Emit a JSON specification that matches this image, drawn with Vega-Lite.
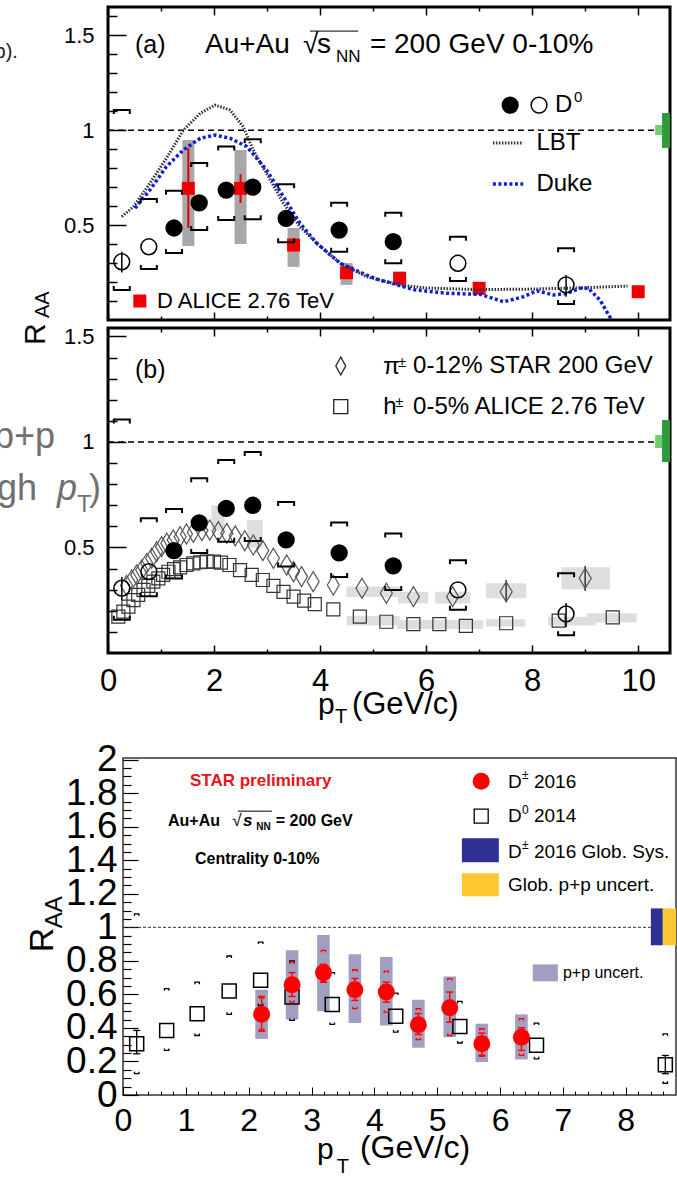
{
"$schema":"https://vega.github.io/schema/vega-lite/v6.json",
"autosize":{"type":"none"},
"padding":{"left":108,"top":7,"right":569,"bottom":1171},
"background":"white",
"spacing":8,
"bounds":"flush",
"resolve":{"scale":{"color":"independent"}},
"config":{
 "view":{"stroke":null},
 "font":"Liberation Sans",
 "axis":{"grid":false,"domain":false,"labelFont":"Liberation Sans","labelColor":"#000","tickColor":"#000","labelOverlap":false,"labelFlush":false,"labelBound":false},
 "text":{"font":"Liberation Sans","color":"#000"}
},
"datasets":{
 "d0":[
  {"pt":0.26,"r":0.307,"sl":0.158,"sh":1.107,"open":true},
  {"pt":0.77,"r":0.386,"sl":0.269,"sh":0.638,"open":true},
  {"pt":1.245,"r":0.485,"sl":0.353,"sh":0.682,"open":false},
  {"pt":1.72,"r":0.617,"sl":0.474,"sh":0.828,"open":false},
  {"pt":2.23,"r":0.685,"sl":0.527,"sh":0.914,"open":false},
  {"pt":2.73,"r":0.7,"sl":0.531,"sh":0.953,"open":false},
  {"pt":3.36,"r":0.536,"sl":0.41,"sh":0.715,"open":false},
  {"pt":4.36,"r":0.474,"sl":0.36,"sh":0.618,"open":false},
  {"pt":5.38,"r":0.413,"sl":0.299,"sh":0.566,"open":false},
  {"pt":6.6,"r":0.299,"sl":0.205,"sh":0.439,"open":true},
  {"pt":8.64,"r":0.185,"sl":0.084,"sh":0.378,"open":true}
 ],
 "d0err":[{"pt":0.26,"lo":0.25,"hi":0.36},{"pt":8.64,"lo":0.123,"hi":0.237}],
 "alice":[{"pt":1.515,"r":0.694},{"pt":2.5,"r":0.694},{"pt":3.5,"r":0.395},{"pt":4.5,"r":0.249},{"pt":5.5,"r":0.22},{"pt":7.0,"r":0.167},{"pt":10.0,"r":0.149}],
 "aliceSys":[{"pt":1.515,"lo":0.39,"hi":0.949},{"pt":2.5,"lo":0.4,"hi":0.896},{"pt":3.5,"lo":0.28,"hi":0.485},{"pt":4.5,"lo":0.185,"hi":0.3},{"pt":5.5,"lo":0.195,"hi":0.255}],
 "aliceErr":[{"pt":1.515,"lo":0.485,"hi":0.906},{"pt":2.5,"lo":0.617,"hi":0.77}],
 "lbt":[{"x":0.26,"y":0.545},{"x":0.48,"y":0.597},{"x":0.79,"y":0.72},{"x":1.1,"y":0.852},{"x":1.42,"y":1.0},{"x":1.74,"y":1.09},{"x":2.02,"y":1.133},{"x":2.3,"y":1.107},{"x":2.55,"y":1.019},{"x":2.74,"y":0.896},{"x":2.99,"y":0.773},{"x":3.31,"y":0.615},{"x":3.62,"y":0.492},{"x":3.94,"y":0.404},{"x":4.38,"y":0.299},{"x":4.88,"y":0.228},{"x":5.51,"y":0.184},{"x":6.0,"y":0.169},{"x":7.0,"y":0.16},{"x":8.0,"y":0.163},{"x":9.0,"y":0.17},{"x":9.8,"y":0.179}],
 "duke":[{"x":0.51,"y":0.589},{"x":0.79,"y":0.685},{"x":1.1,"y":0.808},{"x":1.42,"y":0.896},{"x":1.74,"y":0.958},{"x":2.02,"y":0.975},{"x":2.3,"y":0.958},{"x":2.62,"y":0.914},{"x":2.99,"y":0.791},{"x":3.31,"y":0.65},{"x":3.62,"y":0.51},{"x":3.94,"y":0.404},{"x":4.38,"y":0.299},{"x":4.88,"y":0.237},{"x":5.13,"y":0.21},{"x":5.32,"y":0.197},{"x":5.76,"y":0.16},{"x":6.39,"y":0.141},{"x":7.02,"y":0.135},{"x":7.25,"y":0.115},{"x":7.46,"y":0.096},{"x":7.84,"y":0.123},{"x":8.09,"y":0.154},{"x":8.4,"y":0.132},{"x":8.65,"y":0.14},{"x":8.9,"y":0.167},{"x":9.06,"y":0.167},{"x":9.28,"y":0.105},{"x":9.5,"y":0.0}],
 "pion":[{"x":0.35,"y":0.32},{"x":0.447,"y":0.346},{"x":0.54,"y":0.37},{"x":0.635,"y":0.393},{"x":0.73,"y":0.425},{"x":0.824,"y":0.449},{"x":0.918,"y":0.48},{"x":1.01,"y":0.504},{"x":1.11,"y":0.52},{"x":1.23,"y":0.536},{"x":1.36,"y":0.551},{"x":1.48,"y":0.564},{"x":1.61,"y":0.572},{"x":1.77,"y":0.58},{"x":1.92,"y":0.583},{"x":2.08,"y":0.575},{"x":2.24,"y":0.567},{"x":2.4,"y":0.555},{"x":2.58,"y":0.532},{"x":2.74,"y":0.512},{"x":2.92,"y":0.485},{"x":3.12,"y":0.449},{"x":3.37,"y":0.417},{"x":3.5,"y":0.385},{"x":3.65,"y":0.362},{"x":3.87,"y":0.338},{"x":4.25,"y":0.322},{"x":4.79,"y":0.307},{"x":5.25,"y":0.283},{"x":5.76,"y":0.267},{"x":6.5,"y":0.267},{"x":7.51,"y":0.29},{"x":9.0,"y":0.354}],
 "pionErr":[{"pt":9.0,"lo":0.294,"hi":0.412},{"pt":7.51,"lo":0.243,"hi":0.346}],
 "hadron":[{"x":0.195,"y":0.172},{"x":0.29,"y":0.196},{"x":0.385,"y":0.22},{"x":0.48,"y":0.251},{"x":0.57,"y":0.275},{"x":0.67,"y":0.299},{"x":0.76,"y":0.318},{"x":0.855,"y":0.338},{"x":0.95,"y":0.354},{"x":1.04,"y":0.37},{"x":1.14,"y":0.385},{"x":1.245,"y":0.397},{"x":1.36,"y":0.406},{"x":1.48,"y":0.417},{"x":1.61,"y":0.425},{"x":1.74,"y":0.43},{"x":1.86,"y":0.433},{"x":2.0,"y":0.433},{"x":2.13,"y":0.428},{"x":2.29,"y":0.417},{"x":2.49,"y":0.393},{"x":2.71,"y":0.37},{"x":2.92,"y":0.346},{"x":3.12,"y":0.318},{"x":3.31,"y":0.29},{"x":3.5,"y":0.267},{"x":3.7,"y":0.248},{"x":3.9,"y":0.232},{"x":4.25,"y":0.207},{"x":4.75,"y":0.172},{"x":5.25,"y":0.148},{"x":5.76,"y":0.137},{"x":6.25,"y":0.137},{"x":6.75,"y":0.129},{"x":7.51,"y":0.141},{"x":8.5,"y":0.153},{"x":9.52,"y":0.169}],
 "bSys":[{"x1":1.95,"x2":2.2,"lo":0.58,"hi":0.7},{"x1":2.62,"x2":2.92,"lo":0.5,"hi":0.63},{"x1":4.5,"x2":5.5,"lo":0.265,"hi":0.315},{"x1":5.47,"x2":6.04,"lo":0.235,"hi":0.29},{"x1":6.17,"x2":6.83,"lo":0.235,"hi":0.29},{"x1":7.13,"x2":7.89,"lo":0.259,"hi":0.33},{"x1":8.55,"x2":9.47,"lo":0.302,"hi":0.406},{"x1":4.5,"x2":5.5,"lo":0.13,"hi":0.175},{"x1":5.45,"x2":7.08,"lo":0.114,"hi":0.156},{"x1":7.13,"x2":7.87,"lo":0.125,"hi":0.16},{"x1":8.3,"x2":9.2,"lo":0.13,"hi":0.172},{"x1":9.03,"x2":9.97,"lo":0.144,"hi":0.188}],
 "globA":[{"x1":10.45,"x2":10.6,"lo":0.907,"hi":1.091,"k":"dark"},{"x1":10.32,"x2":10.45,"lo":0.975,"hi":1.028,"k":"light"}],
 "globB":[{"x1":10.45,"x2":10.6,"lo":0.905,"hi":1.104,"k":"dark"},{"x1":10.32,"x2":10.45,"lo":0.971,"hi":1.033,"k":"light"}],
 "unityTop":[{"x1":0,"x2":10.32,"y":1}],
 "dpm":[
  {"pt":2.206,"r":0.481,"el":0.381,"eh":0.588,"sl":0.385,"sh":0.584,"pl":0.335,"ph":0.628},
  {"pt":2.69,"r":0.658,"el":0.588,"eh":0.73,"sl":0.554,"sh":0.793,"pl":0.451,"ph":0.863},
  {"pt":3.19,"r":0.73,"el":0.673,"eh":0.779,"sl":0.673,"sh":0.863,"pl":0.5,"ph":0.955},
  {"pt":3.69,"r":0.628,"el":0.564,"eh":0.695,"sl":0.515,"sh":0.747,"pl":0.429,"ph":0.839},
  {"pt":4.19,"r":0.614,"el":0.554,"eh":0.673,"sl":0.494,"sh":0.739,"pl":0.415,"ph":0.823},
  {"pt":4.7,"r":0.419,"el":0.361,"eh":0.486,"sl":0.33,"sh":0.515,"pl":0.282,"ph":0.568},
  {"pt":5.2,"r":0.52,"el":0.435,"eh":0.614,"sl":0.355,"sh":0.694,"pl":0.345,"ph":0.707},
  {"pt":5.71,"r":0.306,"el":0.236,"eh":0.369,"sl":0.23,"sh":0.395,"pl":0.196,"ph":0.425},
  {"pt":6.34,"r":0.345,"el":0.266,"eh":0.401,"sl":0.236,"sh":0.455,"pl":0.212,"ph":0.481}
 ],
 "d0b":[
  {"pt":0.218,"r":0.306,"sl":0.127,"sh":1.08},
  {"pt":0.695,"r":0.385,"sl":0.266,"sh":0.634},
  {"pt":1.18,"r":0.485,"sl":0.355,"sh":0.673},
  {"pt":1.69,"r":0.62,"sl":0.481,"sh":0.829},
  {"pt":2.19,"r":0.684,"sl":0.534,"sh":0.912},
  {"pt":2.69,"r":0.584,"sl":0.445,"sh":0.8},
  {"pt":3.33,"r":0.54,"sl":0.421,"sh":0.73},
  {"pt":4.34,"r":0.469,"sl":0.375,"sh":0.608},
  {"pt":5.36,"r":0.409,"sl":0.31,"sh":0.558},
  {"pt":6.58,"r":0.296,"sl":0.216,"sh":0.429},
  {"pt":8.63,"r":0.18,"sl":0.07,"sh":0.365}
 ],
 "d0bErr":[{"pt":0.218,"lo":0.246,"hi":0.385},{"pt":8.63,"lo":0.127,"hi":0.236}]
},
"vconcat":[
{
 "width":562,"height":313,
 "view":{"stroke":"black","strokeWidth":3},
 "resolve":{"axis":{"x":"independent","y":"independent"}},
 "layer":[
  {"data":{"values":[{}]},"mark":{"type":"point","opacity":0},"encoding":{
   "x":{"datum":0,"type":"quantitative","scale":{"domain":[0,10.6],"nice":false,"zero":false},"axis":{"orient":"bottom","values":[0,2,4,6,8,10],"tickSize":-8,"tickWidth":1.5,"labels":false,"title":null}},
   "y":{"datum":0,"type":"quantitative","scale":{"domain":[0,1.65],"nice":false,"zero":false},"axis":{"orient":"left","values":[0.5,1,1.5],"tickSize":-18,"tickWidth":1.5,"labelPadding":32,"labelFontSize":22,"labelExpr":"''+datum.value","title":null}}}},
  {"data":{"values":[{}]},"mark":{"type":"point","opacity":0},"encoding":{
   "x":{"datum":0,"type":"quantitative","scale":{"domain":[0,10.6],"nice":false,"zero":false},"axis":{"orient":"bottom","values":[1,3,5,7,9],"tickSize":-4,"tickWidth":1.5,"labels":false,"title":null}},
   "y":{"datum":0,"type":"quantitative","scale":{"domain":[0,1.65],"nice":false,"zero":false},"axis":{"orient":"left","values":[0.1,0.2,0.3,0.4,0.6,0.7,0.8,0.9,1.1,1.2,1.3,1.4,1.6],"tickSize":-9,"tickWidth":1.5,"labels":false,"title":null}}}},
  {"data":{"values":[{}]},"mark":{"type":"point","opacity":0},"encoding":{
   "x":{"datum":0,"type":"quantitative","scale":{"domain":[0,10.6],"nice":false,"zero":false},"axis":{"orient":"top","values":[0,2,4,6,8,10],"tickSize":-8,"tickWidth":1.5,"labels":false,"title":null}},
   "y":{"datum":0,"type":"quantitative","scale":{"domain":[0,1.65],"nice":false,"zero":false},"axis":null}}},
  {"data":{"values":[{}]},"mark":{"type":"point","opacity":0},"encoding":{
   "x":{"datum":0,"type":"quantitative","scale":{"domain":[0,10.6],"nice":false,"zero":false},"axis":{"orient":"top","values":[1,3,5,7,9],"tickSize":-4,"tickWidth":1.5,"labels":false,"title":null}},
   "y":{"datum":0,"type":"quantitative","scale":{"domain":[0,1.65],"nice":false,"zero":false},"axis":null}}},
  {"data":{"name":"aliceSys"},"mark":{"type":"rect","color":"#a8a8a8","xOffset":-6,"x2Offset":6},"encoding":{
   "x":{"field":"pt","type":"quantitative","scale":{"domain":[0,10.6],"nice":false,"zero":false},"axis":null},"x2":{"field":"pt"},
   "y":{"field":"lo","type":"quantitative","scale":{"domain":[0,1.65],"nice":false,"zero":false},"axis":null},"y2":{"field":"hi"}}},
  {"data":{"name":"unityTop"},"mark":{"type":"rule","color":"black","strokeWidth":1.5,"strokeDash":[6,4]},"encoding":{
   "x":{"field":"x1","type":"quantitative","scale":{"domain":[0,10.6],"nice":false,"zero":false},"axis":null},"x2":{"field":"x2"},
   "y":{"field":"y","type":"quantitative","scale":{"domain":[0,1.65],"nice":false,"zero":false},"axis":null}}},
  {"data":{"name":"globA"},"mark":{"type":"rect"},"encoding":{
   "x":{"field":"x1","type":"quantitative","scale":{"domain":[0,10.6],"nice":false,"zero":false},"axis":null},"x2":{"field":"x2"},
   "y":{"field":"lo","type":"quantitative","scale":{"domain":[0,1.65],"nice":false,"zero":false},"axis":null},"y2":{"field":"hi"},
   "color":{"field":"k","type":"nominal","scale":{"domain":["dark","light"],"range":["#2f9a3c","#6fd06f"]},"legend":null}}},
  {"data":{"name":"aliceErr"},"mark":{"type":"rule","color":"#e00000","strokeWidth":2},"encoding":{
   "x":{"field":"pt","type":"quantitative","scale":{"domain":[0,10.6],"nice":false,"zero":false},"axis":null},
   "y":{"field":"lo","type":"quantitative","scale":{"domain":[0,1.65],"nice":false,"zero":false},"axis":null},"y2":{"field":"hi"}}},
  {"data":{"name":"alice"},"mark":{"type":"point","shape":"square","filled":true,"color":"#f00000","size":169,"opacity":1},"encoding":{
   "x":{"field":"pt","type":"quantitative","scale":{"domain":[0,10.6],"nice":false,"zero":false},"axis":null},
   "y":{"field":"r","type":"quantitative","scale":{"domain":[0,1.65],"nice":false,"zero":false},"axis":null}}},
  {"data":{"name":"lbt"},"mark":{"type":"line","color":"#333333","strokeWidth":3,"strokeDash":[1.5,1.5],"clip":true},"encoding":{
   "x":{"field":"x","type":"quantitative","scale":{"domain":[0,10.6],"nice":false,"zero":false},"axis":null},
   "y":{"field":"y","type":"quantitative","scale":{"domain":[0,1.65],"nice":false,"zero":false},"axis":null}}},
  {"data":{"name":"duke"},"mark":{"type":"line","color":"#1020d0","strokeWidth":3.5,"strokeDash":[3,2.5],"clip":true},"encoding":{
   "x":{"field":"x","type":"quantitative","scale":{"domain":[0,10.6],"nice":false,"zero":false},"axis":null},
   "y":{"field":"y","type":"quantitative","scale":{"domain":[0,1.65],"nice":false,"zero":false},"axis":null}}},
  {"data":{"name":"d0"},"mark":{"type":"point","shape":"M-1,0.5L-1,0L1,0L1,0.5","filled":false,"stroke":"black","strokeWidth":2,"size":256,"opacity":1},"encoding":{
   "x":{"field":"pt","type":"quantitative","scale":{"domain":[0,10.6],"nice":false,"zero":false},"axis":null},
   "y":{"field":"sh","type":"quantitative","scale":{"domain":[0,1.65],"nice":false,"zero":false},"axis":null}}},
  {"data":{"name":"d0"},"mark":{"type":"point","shape":"M-1,-0.5L-1,0L1,0L1,-0.5","filled":false,"stroke":"black","strokeWidth":2,"size":256,"opacity":1},"encoding":{
   "x":{"field":"pt","type":"quantitative","scale":{"domain":[0,10.6],"nice":false,"zero":false},"axis":null},
   "y":{"field":"sl","type":"quantitative","scale":{"domain":[0,1.65],"nice":false,"zero":false},"axis":null}}},
  {"data":{"name":"d0err"},"mark":{"type":"rule","color":"black","strokeWidth":1.5},"encoding":{
   "x":{"field":"pt","type":"quantitative","scale":{"domain":[0,10.6],"nice":false,"zero":false},"axis":null},
   "y":{"field":"lo","type":"quantitative","scale":{"domain":[0,1.65],"nice":false,"zero":false},"axis":null},"y2":{"field":"hi"}}},
  {"data":{"name":"d0"},"mark":{"type":"point","shape":"circle","fill":"black","stroke":"black","strokeWidth":1.5,"size":250,"opacity":1},"encoding":{
   "x":{"field":"pt","type":"quantitative","scale":{"domain":[0,10.6],"nice":false,"zero":false},"axis":null},
   "y":{"field":"r","type":"quantitative","scale":{"domain":[0,1.65],"nice":false,"zero":false},"axis":null},
   "fillOpacity":{"condition":{"test":"datum.open","value":0},"value":1}}},
  {"data":{"values":[{"x1":7.26,"x2":7.83,"y":0.933}]},"mark":{"type":"rule","color":"#333333","strokeWidth":3,"strokeDash":[1.5,1.5]},"encoding":{
   "x":{"field":"x1","type":"quantitative","scale":{"domain":[0,10.6],"nice":false,"zero":false},"axis":null},"x2":{"field":"x2"},
   "y":{"field":"y","type":"quantitative","scale":{"domain":[0,1.65],"nice":false,"zero":false},"axis":null}}},
  {"data":{"values":[{"x1":7.26,"x2":7.83,"y":0.717}]},"mark":{"type":"rule","color":"#1020d0","strokeWidth":3.5,"strokeDash":[3,2.5]},"encoding":{
   "x":{"field":"x1","type":"quantitative","scale":{"domain":[0,10.6],"nice":false,"zero":false},"axis":null},"x2":{"field":"x2"},
   "y":{"field":"y","type":"quantitative","scale":{"domain":[0,1.65],"nice":false,"zero":false},"axis":null}}},
  {"data":{"values":[{"x":7.585,"y":1.133,"open":false},{"x":8.13,"y":1.133,"open":true}]},"mark":{"type":"point","shape":"circle","fill":"black","stroke":"black","strokeWidth":1.5,"size":250,"opacity":1},"encoding":{
   "x":{"field":"x","type":"quantitative","scale":{"domain":[0,10.6],"nice":false,"zero":false},"axis":null},
   "y":{"field":"y","type":"quantitative","scale":{"domain":[0,1.65],"nice":false,"zero":false},"axis":null},
   "fillOpacity":{"condition":{"test":"datum.open","value":0},"value":1}}},
  {"data":{"values":[{"x":0.6,"y":0.1}]},"mark":{"type":"point","shape":"square","filled":true,"color":"#f00000","size":169,"opacity":1},"encoding":{
   "x":{"field":"x","type":"quantitative","scale":{"domain":[0,10.6],"nice":false,"zero":false},"axis":null},
   "y":{"field":"y","type":"quantitative","scale":{"domain":[0,1.65],"nice":false,"zero":false},"axis":null}}},
  {"data":{"values":[{"x1":3.81,"x2":4.72,"y":1.523}]},"mark":{"type":"rule","color":"black","strokeWidth":1},"encoding":{
   "x":{"field":"x1","type":"quantitative","scale":{"domain":[0,10.6],"nice":false,"zero":false},"axis":null},"x2":{"field":"x2"},
   "y":{"field":"y","type":"quantitative","scale":{"domain":[0,1.65],"nice":false,"zero":false},"axis":null}}},
  {"data":{"values":[{"x":0.51,"y":1.45,"t":"(a)"}]},"mark":{"type":"text","align":"left","baseline":"middle","fontSize":25},"encoding":{
   "x":{"field":"x","type":"quantitative","scale":{"domain":[0,10.6],"nice":false,"zero":false},"axis":null},
   "y":{"field":"y","type":"quantitative","scale":{"domain":[0,1.65],"nice":false,"zero":false},"axis":null},"text":{"field":"t"}}},
  {"data":{"values":[{"x":1.83,"y":1.45,"t":"Au+Au"},{"x":3.68,"y":1.45,"t":"√"},{"x":3.94,"y":1.45,"t":"s"},{"x":4.94,"y":1.45,"t":"= 200 GeV 0-10%"}]},"mark":{"type":"text","align":"left","baseline":"middle","fontSize":28},"encoding":{
   "x":{"field":"x","type":"quantitative","scale":{"domain":[0,10.6],"nice":false,"zero":false},"axis":null},
   "y":{"field":"y","type":"quantitative","scale":{"domain":[0,1.65],"nice":false,"zero":false},"axis":null},"text":{"field":"t"}}},
  {"data":{"values":[{"x":4.3,"y":1.386,"t":"NN"}]},"mark":{"type":"text","align":"left","baseline":"middle","fontSize":17},"encoding":{
   "x":{"field":"x","type":"quantitative","scale":{"domain":[0,10.6],"nice":false,"zero":false},"axis":null},
   "y":{"field":"y","type":"quantitative","scale":{"domain":[0,1.65],"nice":false,"zero":false},"axis":null},"text":{"field":"t"}}},
  {"data":{"values":[{"x":8.43,"y":1.133,"t":"D"},{"x":8.08,"y":0.933,"t":"LBT"},{"x":8.08,"y":0.717,"t":"Duke"}]},"mark":{"type":"text","align":"left","baseline":"middle","fontSize":24},"encoding":{
   "x":{"field":"x","type":"quantitative","scale":{"domain":[0,10.6],"nice":false,"zero":false},"axis":null},
   "y":{"field":"y","type":"quantitative","scale":{"domain":[0,1.65],"nice":false,"zero":false},"axis":null},"text":{"field":"t"}}},
  {"data":{"values":[{"x":8.79,"y":1.173,"t":"0"}]},"mark":{"type":"text","align":"left","baseline":"middle","fontSize":15},"encoding":{
   "x":{"field":"x","type":"quantitative","scale":{"domain":[0,10.6],"nice":false,"zero":false},"axis":null},
   "y":{"field":"y","type":"quantitative","scale":{"domain":[0,1.65],"nice":false,"zero":false},"axis":null},"text":{"field":"t"}}},
  {"data":{"values":[{"x":0.925,"y":0.1,"t":"D ALICE 2.76 TeV"}]},"mark":{"type":"text","align":"left","baseline":"middle","fontSize":22},"encoding":{
   "x":{"field":"x","type":"quantitative","scale":{"domain":[0,10.6],"nice":false,"zero":false},"axis":null},
   "y":{"field":"y","type":"quantitative","scale":{"domain":[0,1.65],"nice":false,"zero":false},"axis":null},"text":{"field":"t"}}},
  {"data":{"values":[{"x":-1.7,"y":1.381,"t":"b)."}]},"mark":{"type":"text","align":"right","baseline":"alphabetic","fontSize":20,"color":"#222"},"encoding":{
   "x":{"field":"x","type":"quantitative","scale":{"domain":[0,10.6],"nice":false,"zero":false},"axis":null},
   "y":{"field":"y","type":"quantitative","scale":{"domain":[0,1.65],"nice":false,"zero":false},"axis":null},"text":{"field":"t"}}}
 ]
},
{
 "width":562,"height":325,
 "view":{"stroke":"black","strokeWidth":3},
 "resolve":{"axis":{"x":"independent","y":"independent"}},
 "layer":[
  {"data":{"values":[{}]},"mark":{"type":"point","opacity":0},"encoding":{
   "x":{"datum":0,"type":"quantitative","scale":{"domain":[0,10.6],"nice":false,"zero":false},"axis":{"orient":"bottom","values":[0,2,4,6,8,10],"tickSize":-8,"tickWidth":1.5,"labelPadding":21,"labelFontSize":31,"labelExpr":"''+datum.value","title":null}},
   "y":{"datum":0,"type":"quantitative","scale":{"domain":[0,1.54],"nice":false,"zero":false},"axis":{"orient":"left","values":[0.5,1,1.5],"tickSize":-18,"tickWidth":1.5,"labelPadding":32,"labelFontSize":22,"labelExpr":"''+datum.value","title":null}}}},
  {"data":{"values":[{}]},"mark":{"type":"point","opacity":0},"encoding":{
   "x":{"datum":0,"type":"quantitative","scale":{"domain":[0,10.6],"nice":false,"zero":false},"axis":{"orient":"bottom","values":[1,3,5,7,9],"tickSize":-4,"tickWidth":1.5,"labels":false,"title":null}},
   "y":{"datum":0,"type":"quantitative","scale":{"domain":[0,1.54],"nice":false,"zero":false},"axis":{"orient":"left","values":[0.1,0.2,0.3,0.4,0.6,0.7,0.8,0.9,1.1,1.2,1.3,1.4],"tickSize":-9,"tickWidth":1.5,"labels":false,"title":null}}}},
  {"data":{"values":[{}]},"mark":{"type":"point","opacity":0},"encoding":{
   "x":{"datum":0,"type":"quantitative","scale":{"domain":[0,10.6],"nice":false,"zero":false},"axis":{"orient":"top","values":[0,2,4,6,8,10],"tickSize":-8,"tickWidth":1.5,"labels":false,"title":null}},
   "y":{"datum":0,"type":"quantitative","scale":{"domain":[0,1.54],"nice":false,"zero":false},"axis":null}}},
  {"data":{"values":[{}]},"mark":{"type":"point","opacity":0},"encoding":{
   "x":{"datum":0,"type":"quantitative","scale":{"domain":[0,10.6],"nice":false,"zero":false},"axis":{"orient":"top","values":[1,3,5,7,9],"tickSize":-4,"tickWidth":1.5,"labels":false,"title":null}},
   "y":{"datum":0,"type":"quantitative","scale":{"domain":[0,1.54],"nice":false,"zero":false},"axis":null}}},
  {"data":{"name":"bSys"},"mark":{"type":"rect","color":"#dedede"},"encoding":{
   "x":{"field":"x1","type":"quantitative","scale":{"domain":[0,10.6],"nice":false,"zero":false},"axis":null},"x2":{"field":"x2"},
   "y":{"field":"lo","type":"quantitative","scale":{"domain":[0,1.54],"nice":false,"zero":false},"axis":null},"y2":{"field":"hi"}}},
  {"data":{"name":"unityTop"},"mark":{"type":"rule","color":"black","strokeWidth":1.5,"strokeDash":[6,4]},"encoding":{
   "x":{"field":"x1","type":"quantitative","scale":{"domain":[0,10.6],"nice":false,"zero":false},"axis":null},"x2":{"field":"x2"},
   "y":{"field":"y","type":"quantitative","scale":{"domain":[0,1.54],"nice":false,"zero":false},"axis":null}}},
  {"data":{"name":"globB"},"mark":{"type":"rect"},"encoding":{
   "x":{"field":"x1","type":"quantitative","scale":{"domain":[0,10.6],"nice":false,"zero":false},"axis":null},"x2":{"field":"x2"},
   "y":{"field":"lo","type":"quantitative","scale":{"domain":[0,1.54],"nice":false,"zero":false},"axis":null},"y2":{"field":"hi"},
   "color":{"field":"k","type":"nominal","scale":{"domain":["dark","light"],"range":["#2f9a3c","#6fd06f"]},"legend":null}}},
  {"data":{"name":"hadron"},"mark":{"type":"point","shape":"square","filled":false,"stroke":"#333","strokeWidth":1.2,"size":169,"opacity":1},"encoding":{
   "x":{"field":"x","type":"quantitative","scale":{"domain":[0,10.6],"nice":false,"zero":false},"axis":null},
   "y":{"field":"y","type":"quantitative","scale":{"domain":[0,1.54],"nice":false,"zero":false},"axis":null}}},
  {"data":{"name":"pionErr"},"mark":{"type":"rule","color":"#333","strokeWidth":1.5},"encoding":{
   "x":{"field":"pt","type":"quantitative","scale":{"domain":[0,10.6],"nice":false,"zero":false},"axis":null},
   "y":{"field":"lo","type":"quantitative","scale":{"domain":[0,1.54],"nice":false,"zero":false},"axis":null},"y2":{"field":"hi"}}},
  {"data":{"name":"pion"},"mark":{"type":"point","shape":"M0,-1L0.6,0L0,1L-0.6,0Z","filled":false,"stroke":"#555","strokeWidth":1.2,"size":400,"opacity":1},"encoding":{
   "x":{"field":"x","type":"quantitative","scale":{"domain":[0,10.6],"nice":false,"zero":false},"axis":null},
   "y":{"field":"y","type":"quantitative","scale":{"domain":[0,1.54],"nice":false,"zero":false},"axis":null}}},
  {"data":{"name":"d0"},"mark":{"type":"point","shape":"M-1,0.5L-1,0L1,0L1,0.5","filled":false,"stroke":"black","strokeWidth":2,"size":256,"opacity":1},"encoding":{
   "x":{"field":"pt","type":"quantitative","scale":{"domain":[0,10.6],"nice":false,"zero":false},"axis":null},
   "y":{"field":"sh","type":"quantitative","scale":{"domain":[0,1.54],"nice":false,"zero":false},"axis":null}}},
  {"data":{"name":"d0"},"mark":{"type":"point","shape":"M-1,-0.5L-1,0L1,0L1,-0.5","filled":false,"stroke":"black","strokeWidth":2,"size":256,"opacity":1},"encoding":{
   "x":{"field":"pt","type":"quantitative","scale":{"domain":[0,10.6],"nice":false,"zero":false},"axis":null},
   "y":{"field":"sl","type":"quantitative","scale":{"domain":[0,1.54],"nice":false,"zero":false},"axis":null}}},
  {"data":{"name":"d0err"},"mark":{"type":"rule","color":"black","strokeWidth":1.5},"encoding":{
   "x":{"field":"pt","type":"quantitative","scale":{"domain":[0,10.6],"nice":false,"zero":false},"axis":null},
   "y":{"field":"lo","type":"quantitative","scale":{"domain":[0,1.54],"nice":false,"zero":false},"axis":null},"y2":{"field":"hi"}}},
  {"data":{"name":"d0"},"mark":{"type":"point","shape":"circle","fill":"black","stroke":"black","strokeWidth":1.5,"size":250,"opacity":1},"encoding":{
   "x":{"field":"pt","type":"quantitative","scale":{"domain":[0,10.6],"nice":false,"zero":false},"axis":null},
   "y":{"field":"r","type":"quantitative","scale":{"domain":[0,1.54],"nice":false,"zero":false},"axis":null},
   "fillOpacity":{"condition":{"test":"datum.open","value":0},"value":1}}},
  {"data":{"values":[{"x":4.39,"y":1.36}]},"mark":{"type":"point","shape":"M0,-1L0.55,0L0,1L-0.55,0Z","filled":false,"stroke":"#222","strokeWidth":1.3,"size":324,"opacity":1},"encoding":{
   "x":{"field":"x","type":"quantitative","scale":{"domain":[0,10.6],"nice":false,"zero":false},"axis":null},
   "y":{"field":"y","type":"quantitative","scale":{"domain":[0,1.54],"nice":false,"zero":false},"axis":null}}},
  {"data":{"values":[{"x":4.39,"y":1.167}]},"mark":{"type":"point","shape":"square","filled":false,"stroke":"#222","strokeWidth":1.3,"size":196,"opacity":1},"encoding":{
   "x":{"field":"x","type":"quantitative","scale":{"domain":[0,10.6],"nice":false,"zero":false},"axis":null},
   "y":{"field":"y","type":"quantitative","scale":{"domain":[0,1.54],"nice":false,"zero":false},"axis":null}}},
  {"data":{"values":[{"x":0.51,"y":1.341,"t":"(b)"}]},"mark":{"type":"text","align":"left","baseline":"middle","fontSize":25},"encoding":{
   "x":{"field":"x","type":"quantitative","scale":{"domain":[0,10.6],"nice":false,"zero":false},"axis":null},
   "y":{"field":"y","type":"quantitative","scale":{"domain":[0,1.54],"nice":false,"zero":false},"axis":null},"text":{"field":"t"}}},
  {"data":{"values":[{"x":5.19,"y":1.355,"t":"π"},{"x":5.755,"y":1.36,"t":"0-12% STAR 200 GeV"},{"x":5.19,"y":1.166,"t":"h"},{"x":5.755,"y":1.166,"t":"0-5% ALICE 2.76 TeV"}]},"mark":{"type":"text","align":"left","baseline":"middle","fontSize":24},"encoding":{
   "x":{"field":"x","type":"quantitative","scale":{"domain":[0,10.6],"nice":false,"zero":false},"axis":null},
   "y":{"field":"y","type":"quantitative","scale":{"domain":[0,1.54],"nice":false,"zero":false},"axis":null},"text":{"field":"t"}}},
  {"data":{"values":[{"x":5.47,"y":1.38,"t":"±"},{"x":5.42,"y":1.19,"t":"±"}]},"mark":{"type":"text","align":"left","baseline":"middle","fontSize":15},"encoding":{
   "x":{"field":"x","type":"quantitative","scale":{"domain":[0,10.6],"nice":false,"zero":false},"axis":null},
   "y":{"field":"y","type":"quantitative","scale":{"domain":[0,1.54],"nice":false,"zero":false},"axis":null},"text":{"field":"t"}}},
  {"data":{"values":[{"x":3.96,"y":-0.246,"t":"p"}]},"mark":{"type":"text","align":"left","baseline":"middle","fontSize":30},"encoding":{
   "x":{"field":"x","type":"quantitative","scale":{"domain":[0,10.6],"nice":false,"zero":false},"axis":null},
   "y":{"field":"y","type":"quantitative","scale":{"domain":[0,1.54],"nice":false,"zero":false},"axis":null},"text":{"field":"t"}}},
  {"data":{"values":[{"x":4.6,"y":-0.246,"t":"(GeV/c)"}]},"mark":{"type":"text","align":"left","baseline":"middle","fontSize":31},"encoding":{
   "x":{"field":"x","type":"quantitative","scale":{"domain":[0,10.6],"nice":false,"zero":false},"axis":null},
   "y":{"field":"y","type":"quantitative","scale":{"domain":[0,1.54],"nice":false,"zero":false},"axis":null},"text":{"field":"t"}}},
  {"data":{"values":[{"x":4.28,"y":-0.303,"t":"T"}]},"mark":{"type":"text","align":"left","baseline":"middle","fontSize":20},"encoding":{
   "x":{"field":"x","type":"quantitative","scale":{"domain":[0,10.6],"nice":false,"zero":false},"axis":null},
   "y":{"field":"y","type":"quantitative","scale":{"domain":[0,1.54],"nice":false,"zero":false},"axis":null},"text":{"field":"t"}}},
  {"data":{"values":[{"x":-1.19,"y":1.459,"t":"R"}]},"mark":{"type":"text","align":"left","baseline":"alphabetic","angle":270,"fontSize":30},"encoding":{
   "x":{"field":"x","type":"quantitative","scale":{"domain":[0,10.6],"nice":false,"zero":false},"axis":null},
   "y":{"field":"y","type":"quantitative","scale":{"domain":[0,1.54],"nice":false,"zero":false},"axis":null},"text":{"field":"t"}}},
  {"data":{"values":[{"x":-1.11,"y":1.587,"t":"AA"}]},"mark":{"type":"text","align":"left","baseline":"alphabetic","angle":270,"fontSize":20},"encoding":{
   "x":{"field":"x","type":"quantitative","scale":{"domain":[0,10.6],"nice":false,"zero":false},"axis":null},
   "y":{"field":"y","type":"quantitative","scale":{"domain":[0,1.54],"nice":false,"zero":false},"axis":null},"text":{"field":"t"}}},
  {"data":{"values":[{"x":-1.0,"y":0.971,"t":"p+p"},{"x":-1.34,"y":0.725,"t":"(high"}]},"mark":{"type":"text","align":"right","baseline":"alphabetic","fontSize":36,"color":"#707070"},"encoding":{
   "x":{"field":"x","type":"quantitative","scale":{"domain":[0,10.6],"nice":false,"zero":false},"axis":null},
   "y":{"field":"y","type":"quantitative","scale":{"domain":[0,1.54],"nice":false,"zero":false},"axis":null},"text":{"field":"t"}}},
  {"data":{"values":[{"x":-0.962,"y":0.725,"t":"p"}]},"mark":{"type":"text","align":"left","baseline":"alphabetic","fontSize":36,"fontStyle":"italic","color":"#707070"},"encoding":{
   "x":{"field":"x","type":"quantitative","scale":{"domain":[0,10.6],"nice":false,"zero":false},"axis":null},
   "y":{"field":"y","type":"quantitative","scale":{"domain":[0,1.54],"nice":false,"zero":false},"axis":null},"text":{"field":"t"}}},
  {"data":{"values":[{"x":-0.585,"y":0.668,"t":"T"}]},"mark":{"type":"text","align":"left","baseline":"alphabetic","fontSize":24,"color":"#707070"},"encoding":{
   "x":{"field":"x","type":"quantitative","scale":{"domain":[0,10.6],"nice":false,"zero":false},"axis":null},
   "y":{"field":"y","type":"quantitative","scale":{"domain":[0,1.54],"nice":false,"zero":false},"axis":null},"text":{"field":"t"}}},
  {"data":{"values":[{"x":-0.358,"y":0.725,"t":")"}]},"mark":{"type":"text","align":"left","baseline":"alphabetic","fontSize":36,"color":"#707070"},"encoding":{
   "x":{"field":"x","type":"quantitative","scale":{"domain":[0,10.6],"nice":false,"zero":false},"axis":null},
   "y":{"field":"y","type":"quantitative","scale":{"domain":[0,1.54],"nice":false,"zero":false},"axis":null},"text":{"field":"t"}}}
 ]
},
{"width":1,"height":89,"data":{"values":[]},"mark":"point"},
{
 "hconcat":[
  {"width":1,"height":337,"data":{"values":[]},"mark":"point"},
  {
   "width":553,"height":337,
   "view":{"stroke":"#333","strokeWidth":1.5},
   "resolve":{"axis":{"x":"independent","y":"independent"}},
   "layer":[
    {"data":{"values":[{}]},"mark":{"type":"point","opacity":0},"encoding":{
     "x":{"datum":0,"type":"quantitative","scale":{"domain":[0,8.8],"nice":false,"zero":false},"axis":{"orient":"bottom","values":[0,1,2,3,4,5,6,7,8],"tickSize":-8,"tickWidth":1,"labelPadding":18,"labelFontSize":32,"labelExpr":"''+datum.value","title":null}},
     "y":{"datum":0,"type":"quantitative","scale":{"domain":[0,2.01],"nice":false,"zero":false},"axis":{"orient":"left","values":[0,0.2,0.4,0.6,0.8,1,1.2,1.4,1.6,1.8,2],"tickSize":-15,"tickWidth":1.2,"labelPadding":21,"labelFontSize":37,"labelExpr":"''+datum.value","title":null}}}},
    {"data":{"values":[{}]},"mark":{"type":"point","opacity":0},"encoding":{
     "x":{"datum":0,"type":"quantitative","scale":{"domain":[0,8.8],"nice":false,"zero":false},"axis":{"orient":"bottom","values":[0.2,0.4,0.6,0.8,1.2,1.4,1.6,1.8,2.2,2.4,2.6,2.8,3.2,3.4,3.6,3.8,4.2,4.4,4.6,4.8,5.2,5.4,5.6,5.8,6.2,6.4,6.6,6.8,7.2,7.4,7.6,7.8,8.2,8.4,8.6],"tickSize":-4,"tickWidth":1,"labels":false,"title":null}},
     "y":{"datum":0,"type":"quantitative","scale":{"domain":[0,2.01],"nice":false,"zero":false},"axis":{"orient":"left","values":[0.05,0.1,0.15,0.25,0.3,0.35,0.45,0.5,0.55,0.65,0.7,0.75,0.85,0.9,0.95,1.05,1.1,1.15,1.25,1.3,1.35,1.45,1.5,1.55,1.65,1.7,1.75,1.85,1.9,1.95],"tickSize":-8,"tickWidth":1.2,"labels":false,"title":null}}}},
    {"data":{"name":"dpm"},"mark":{"type":"rect","color":"#a09fc0","xOffset":-6.3,"x2Offset":6.3},"encoding":{
     "x":{"field":"pt","type":"quantitative","scale":{"domain":[0,8.8],"nice":false,"zero":false},"axis":null},"x2":{"field":"pt"},
     "y":{"field":"pl","type":"quantitative","scale":{"domain":[0,2.01],"nice":false,"zero":false},"axis":null},"y2":{"field":"ph"}}},
    {"data":{"values":[{"x1":0,"x2":8.4,"y":1}]},"mark":{"type":"rule","color":"#333","strokeWidth":1,"strokeDash":[3,2]},"encoding":{
     "x":{"field":"x1","type":"quantitative","scale":{"domain":[0,8.8],"nice":false,"zero":false},"axis":null},"x2":{"field":"x2"},
     "y":{"field":"y","type":"quantitative","scale":{"domain":[0,2.01],"nice":false,"zero":false},"axis":null}}},
    {"data":{"values":[{"x1":8.4,"x2":8.59,"lo":0.893,"hi":1.113},{"x1":5.393,"x2":5.981,"lo":1.388,"hi":1.531}]},"mark":{"type":"rect","color":"#2e3192"},"encoding":{
     "x":{"field":"x1","type":"quantitative","scale":{"domain":[0,8.8],"nice":false,"zero":false},"axis":null},"x2":{"field":"x2"},
     "y":{"field":"lo","type":"quantitative","scale":{"domain":[0,2.01],"nice":false,"zero":false},"axis":null},"y2":{"field":"hi"}}},
    {"data":{"values":[{"x1":8.59,"x2":8.8,"lo":0.893,"hi":1.113},{"x1":5.393,"x2":5.981,"lo":1.185,"hi":1.322}]},"mark":{"type":"rect","color":"#fdc82f"},"encoding":{
     "x":{"field":"x1","type":"quantitative","scale":{"domain":[0,8.8],"nice":false,"zero":false},"axis":null},"x2":{"field":"x2"},
     "y":{"field":"lo","type":"quantitative","scale":{"domain":[0,2.01],"nice":false,"zero":false},"axis":null},"y2":{"field":"hi"}}},
    {"data":{"values":[{"x1":6.52,"x2":6.92,"lo":0.678,"hi":0.779}]},"mark":{"type":"rect","color":"#a09fc0"},"encoding":{
     "x":{"field":"x1","type":"quantitative","scale":{"domain":[0,8.8],"nice":false,"zero":false},"axis":null},"x2":{"field":"x2"},
     "y":{"field":"lo","type":"quantitative","scale":{"domain":[0,2.01],"nice":false,"zero":false},"axis":null},"y2":{"field":"hi"}}},
    {"data":{"name":"d0b"},"mark":{"type":"point","shape":"M-1,0.9L-1,0L1,0L1,0.9","filled":false,"stroke":"black","strokeWidth":1.3,"size":20,"opacity":1},"encoding":{
     "x":{"field":"pt","type":"quantitative","scale":{"domain":[0,8.8],"nice":false,"zero":false},"axis":null},
     "y":{"field":"sh","type":"quantitative","scale":{"domain":[0,2.01],"nice":false,"zero":false},"axis":null}}},
    {"data":{"name":"d0b"},"mark":{"type":"point","shape":"M-1,-0.9L-1,0L1,0L1,-0.9","filled":false,"stroke":"black","strokeWidth":1.3,"size":20,"opacity":1},"encoding":{
     "x":{"field":"pt","type":"quantitative","scale":{"domain":[0,8.8],"nice":false,"zero":false},"axis":null},
     "y":{"field":"sl","type":"quantitative","scale":{"domain":[0,2.01],"nice":false,"zero":false},"axis":null}}},
    {"data":{"name":"d0bErr"},"mark":{"type":"rule","color":"black","strokeWidth":1.3},"encoding":{
     "x":{"field":"pt","type":"quantitative","scale":{"domain":[0,8.8],"nice":false,"zero":false},"axis":null},
     "y":{"field":"lo","type":"quantitative","scale":{"domain":[0,2.01],"nice":false,"zero":false},"axis":null},"y2":{"field":"hi"}}},
    {"data":{"name":"d0bErr"},"mark":{"type":"point","shape":"M-1,0L1,0","filled":false,"stroke":"black","strokeWidth":1.3,"size":49,"opacity":1},"encoding":{
     "x":{"field":"pt","type":"quantitative","scale":{"domain":[0,8.8],"nice":false,"zero":false},"axis":null},
     "y":{"field":"lo","type":"quantitative","scale":{"domain":[0,2.01],"nice":false,"zero":false},"axis":null}}},
    {"data":{"name":"d0bErr"},"mark":{"type":"point","shape":"M-1,0L1,0","filled":false,"stroke":"black","strokeWidth":1.3,"size":49,"opacity":1},"encoding":{
     "x":{"field":"pt","type":"quantitative","scale":{"domain":[0,8.8],"nice":false,"zero":false},"axis":null},
     "y":{"field":"hi","type":"quantitative","scale":{"domain":[0,2.01],"nice":false,"zero":false},"axis":null}}},
    {"data":{"name":"d0b"},"mark":{"type":"point","shape":"square","filled":false,"stroke":"black","strokeWidth":1.5,"size":196,"opacity":1},"encoding":{
     "x":{"field":"pt","type":"quantitative","scale":{"domain":[0,8.8],"nice":false,"zero":false},"axis":null},
     "y":{"field":"r","type":"quantitative","scale":{"domain":[0,2.01],"nice":false,"zero":false},"axis":null}}},
    {"data":{"name":"dpm"},"mark":{"type":"point","shape":"M-1,0.9L-1,0L1,0L1,0.9","filled":false,"stroke":"#ff0000","strokeWidth":1.3,"size":18,"opacity":1},"encoding":{
     "x":{"field":"pt","type":"quantitative","scale":{"domain":[0,8.8],"nice":false,"zero":false},"axis":null},
     "y":{"field":"sh","type":"quantitative","scale":{"domain":[0,2.01],"nice":false,"zero":false},"axis":null}}},
    {"data":{"name":"dpm"},"mark":{"type":"point","shape":"M-1,-0.9L-1,0L1,0L1,-0.9","filled":false,"stroke":"#ff0000","strokeWidth":1.3,"size":18,"opacity":1},"encoding":{
     "x":{"field":"pt","type":"quantitative","scale":{"domain":[0,8.8],"nice":false,"zero":false},"axis":null},
     "y":{"field":"sl","type":"quantitative","scale":{"domain":[0,2.01],"nice":false,"zero":false},"axis":null}}},
    {"data":{"name":"dpm"},"mark":{"type":"rule","color":"#ff0000","strokeWidth":1.5},"encoding":{
     "x":{"field":"pt","type":"quantitative","scale":{"domain":[0,8.8],"nice":false,"zero":false},"axis":null},
     "y":{"field":"el","type":"quantitative","scale":{"domain":[0,2.01],"nice":false,"zero":false},"axis":null},"y2":{"field":"eh"}}},
    {"data":{"name":"dpm"},"mark":{"type":"point","shape":"M-1,0L1,0","filled":false,"stroke":"#ff0000","strokeWidth":1.5,"size":49,"opacity":1},"encoding":{
     "x":{"field":"pt","type":"quantitative","scale":{"domain":[0,8.8],"nice":false,"zero":false},"axis":null},
     "y":{"field":"el","type":"quantitative","scale":{"domain":[0,2.01],"nice":false,"zero":false},"axis":null}}},
    {"data":{"name":"dpm"},"mark":{"type":"point","shape":"M-1,0L1,0","filled":false,"stroke":"#ff0000","strokeWidth":1.5,"size":49,"opacity":1},"encoding":{
     "x":{"field":"pt","type":"quantitative","scale":{"domain":[0,8.8],"nice":false,"zero":false},"axis":null},
     "y":{"field":"eh","type":"quantitative","scale":{"domain":[0,2.01],"nice":false,"zero":false},"axis":null}}},
    {"data":{"name":"dpm"},"mark":{"type":"point","shape":"circle","filled":true,"color":"#ff0000","size":289,"opacity":1},"encoding":{
     "x":{"field":"pt","type":"quantitative","scale":{"domain":[0,8.8],"nice":false,"zero":false},"axis":null},
     "y":{"field":"r","type":"quantitative","scale":{"domain":[0,2.01],"nice":false,"zero":false},"axis":null}}},
    {"data":{"values":[{"x":5.7,"y":1.872}]},"mark":{"type":"point","shape":"circle","filled":true,"color":"#ff0000","size":289,"opacity":1},"encoding":{
     "x":{"field":"x","type":"quantitative","scale":{"domain":[0,8.8],"nice":false,"zero":false},"axis":null},
     "y":{"field":"y","type":"quantitative","scale":{"domain":[0,2.01],"nice":false,"zero":false},"axis":null}}},
    {"data":{"values":[{"x":5.7,"y":1.663}]},"mark":{"type":"point","shape":"square","filled":false,"stroke":"black","strokeWidth":1.3,"size":196,"opacity":1},"encoding":{
     "x":{"field":"x","type":"quantitative","scale":{"domain":[0,8.8],"nice":false,"zero":false},"axis":null},
     "y":{"field":"y","type":"quantitative","scale":{"domain":[0,2.01],"nice":false,"zero":false},"axis":null}}},
    {"data":{"values":[{"x1":1.83,"x2":2.37,"y":1.693}]},"mark":{"type":"rule","color":"black","strokeWidth":1},"encoding":{
     "x":{"field":"x1","type":"quantitative","scale":{"domain":[0,8.8],"nice":false,"zero":false},"axis":null},"x2":{"field":"x2"},
     "y":{"field":"y","type":"quantitative","scale":{"domain":[0,2.01],"nice":false,"zero":false},"axis":null}}},
    {"data":{"values":[{"x":1.066,"y":1.872,"t":"STAR preliminary"}]},"mark":{"type":"text","align":"left","baseline":"middle","fontSize":17,"fontWeight":"bold","color":"#e8141c"},"encoding":{
     "x":{"field":"x","type":"quantitative","scale":{"domain":[0,8.8],"nice":false,"zero":false},"axis":null},
     "y":{"field":"y","type":"quantitative","scale":{"domain":[0,2.01],"nice":false,"zero":false},"axis":null},"text":{"field":"t"}}},
    {"data":{"values":[{"x":0.716,"y":1.633,"t":"Au+Au"},{"x":2.43,"y":1.633,"t":"= 200 GeV"},{"x":1.145,"y":1.41,"t":"Centrality 0-10%"}]},"mark":{"type":"text","align":"left","baseline":"middle","fontSize":16,"fontWeight":"bold"},"encoding":{
     "x":{"field":"x","type":"quantitative","scale":{"domain":[0,8.8],"nice":false,"zero":false},"axis":null},
     "y":{"field":"y","type":"quantitative","scale":{"domain":[0,2.01],"nice":false,"zero":false},"axis":null},"text":{"field":"t"}}},
    {"data":{"values":[{"x":1.74,"y":1.633,"t":"√"}]},"mark":{"type":"text","align":"left","baseline":"middle","fontSize":17},"encoding":{
     "x":{"field":"x","type":"quantitative","scale":{"domain":[0,8.8],"nice":false,"zero":false},"axis":null},
     "y":{"field":"y","type":"quantitative","scale":{"domain":[0,2.01],"nice":false,"zero":false},"axis":null},"text":{"field":"t"}}},
    {"data":{"values":[{"x":1.909,"y":1.633,"t":"s"}]},"mark":{"type":"text","align":"left","baseline":"middle","fontSize":17,"fontWeight":"bold","fontStyle":"italic"},"encoding":{
     "x":{"field":"x","type":"quantitative","scale":{"domain":[0,8.8],"nice":false,"zero":false},"axis":null},
     "y":{"field":"y","type":"quantitative","scale":{"domain":[0,2.01],"nice":false,"zero":false},"axis":null},"text":{"field":"t"}}},
    {"data":{"values":[{"x":2.12,"y":1.597,"t":"NN"}]},"mark":{"type":"text","align":"left","baseline":"middle","fontSize":10,"fontWeight":"bold"},"encoding":{
     "x":{"field":"x","type":"quantitative","scale":{"domain":[0,8.8],"nice":false,"zero":false},"axis":null},
     "y":{"field":"y","type":"quantitative","scale":{"domain":[0,2.01],"nice":false,"zero":false},"axis":null},"text":{"field":"t"}}},
    {"data":{"values":[{"x":6.125,"y":1.867,"t":"D"},{"x":6.54,"y":1.867,"t":"2016"},{"x":6.125,"y":1.663,"t":"D"},{"x":6.54,"y":1.663,"t":"2014"},{"x":6.125,"y":1.45,"t":"D"},{"x":6.54,"y":1.45,"t":"2016 Glob. Sys."},{"x":6.125,"y":1.251,"t":"Glob. p+p uncert."}]},"mark":{"type":"text","align":"left","baseline":"middle","fontSize":19},"encoding":{
     "x":{"field":"x","type":"quantitative","scale":{"domain":[0,8.8],"nice":false,"zero":false},"axis":null},
     "y":{"field":"y","type":"quantitative","scale":{"domain":[0,2.01],"nice":false,"zero":false},"axis":null},"text":{"field":"t"}}},
    {"data":{"values":[{"x":6.35,"y":1.907,"t":"±"},{"x":6.35,"y":1.699,"t":"0"},{"x":6.35,"y":1.49,"t":"±"}]},"mark":{"type":"text","align":"left","baseline":"middle","fontSize":12},"encoding":{
     "x":{"field":"x","type":"quantitative","scale":{"domain":[0,8.8],"nice":false,"zero":false},"axis":null},
     "y":{"field":"y","type":"quantitative","scale":{"domain":[0,2.01],"nice":false,"zero":false},"axis":null},"text":{"field":"t"}}},
    {"data":{"values":[{"x":7.0,"y":0.725,"t":"p+p uncert."}]},"mark":{"type":"text","align":"left","baseline":"middle","fontSize":16},"encoding":{
     "x":{"field":"x","type":"quantitative","scale":{"domain":[0,8.8],"nice":false,"zero":false},"axis":null},
     "y":{"field":"y","type":"quantitative","scale":{"domain":[0,2.01],"nice":false,"zero":false},"axis":null},"text":{"field":"t"}}},
    {"data":{"values":[{"x":3.086,"y":-0.331,"t":"p"}]},"mark":{"type":"text","align":"left","baseline":"middle","fontSize":30},"encoding":{
     "x":{"field":"x","type":"quantitative","scale":{"domain":[0,8.8],"nice":false,"zero":false},"axis":null},
     "y":{"field":"y","type":"quantitative","scale":{"domain":[0,2.01],"nice":false,"zero":false},"axis":null},"text":{"field":"t"}}},
    {"data":{"values":[{"x":3.77,"y":-0.319,"t":"(GeV/c)"}]},"mark":{"type":"text","align":"left","baseline":"middle","fontSize":32},"encoding":{
     "x":{"field":"x","type":"quantitative","scale":{"domain":[0,8.8],"nice":false,"zero":false},"axis":null},
     "y":{"field":"y","type":"quantitative","scale":{"domain":[0,2.01],"nice":false,"zero":false},"axis":null},"text":{"field":"t"}}},
    {"data":{"values":[{"x":3.4,"y":-0.427,"t":"T"}]},"mark":{"type":"text","align":"left","baseline":"middle","fontSize":20},"encoding":{
     "x":{"field":"x","type":"quantitative","scale":{"domain":[0,8.8],"nice":false,"zero":false},"axis":null},
     "y":{"field":"y","type":"quantitative","scale":{"domain":[0,2.01],"nice":false,"zero":false},"axis":null},"text":{"field":"t"}}},
    {"data":{"values":[{"x":-1.114,"y":0.851,"t":"R"}]},"mark":{"type":"text","align":"left","baseline":"alphabetic","angle":270,"fontSize":34},"encoding":{
     "x":{"field":"x","type":"quantitative","scale":{"domain":[0,8.8],"nice":false,"zero":false},"axis":null},
     "y":{"field":"y","type":"quantitative","scale":{"domain":[0,2.01],"nice":false,"zero":false},"axis":null},"text":{"field":"t"}}},
    {"data":{"values":[{"x":-0.97,"y":0.994,"t":"AA"}]},"mark":{"type":"text","align":"left","baseline":"alphabetic","angle":270,"fontSize":24},"encoding":{
     "x":{"field":"x","type":"quantitative","scale":{"domain":[0,8.8],"nice":false,"zero":false},"axis":null},
     "y":{"field":"y","type":"quantitative","scale":{"domain":[0,2.01],"nice":false,"zero":false},"axis":null},"text":{"field":"t"}}}
   ]
  }
 ],
 "spacing":14,
 "bounds":"flush"
}
]
}
